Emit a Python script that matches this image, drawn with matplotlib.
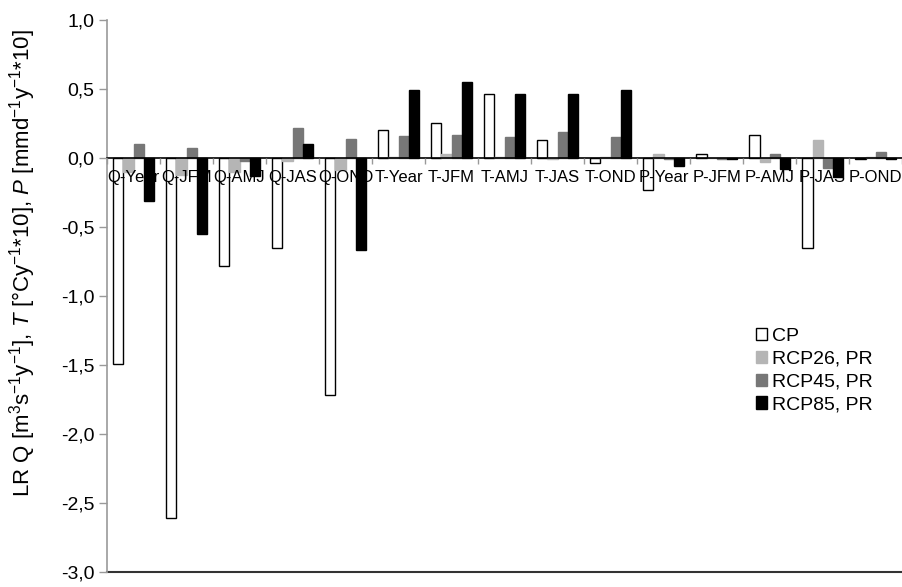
import matplotlib
matplotlib.use("Agg")
import matplotlib.pyplot as plt
import numpy as np
from matplotlib.ticker import FuncFormatter, FixedLocator

plt.rcParams["font.family"] = ["Liberation Sans", "DejaVu Sans"]
plt.rcParams["mathtext.fontset"] = "custom"
plt.rcParams["mathtext.rm"] = "Liberation Sans"
plt.rcParams["mathtext.it"] = "Liberation Sans:italic"

categories = ["Q-Year", "Q-JFM", "Q-AMJ", "Q-JAS", "Q-OND",
              "T-Year", "T-JFM", "T-AMJ", "T-JAS", "T-OND",
              "P-Year", "P-JFM", "P-AMJ", "P-JAS", "P-OND"]

cp = [-1.49, -2.61, -0.78, -0.65, -1.72,
      0.20, 0.25, 0.46, 0.13, -0.04,
      -0.23, 0.03, 0.17, -0.65, -0.01]
rcp26 = [-0.10, -0.12, -0.10, -0.02, -0.09,
         0.01, 0.03, 0.01, -0.01, 0.01,
         0.03, 0.00, -0.03, 0.13, 0.01]
rcp45 = [0.10, 0.07, -0.02, 0.22, 0.14,
         0.16, 0.17, 0.15, 0.19, 0.15,
         -0.01, -0.01, 0.03, -0.07, 0.04]
rcp85 = [-0.31, -0.55, -0.13, 0.10, -0.67,
         0.49, 0.55, 0.46, 0.46, 0.49,
         -0.06, -0.01, -0.08, -0.14, -0.01]

series = [
    ("CP", cp, "white", "black"),
    ("RCP26, PR", rcp26, "#b5b5b5", "#b5b5b5"),
    ("RCP45, PR", rcp45, "#777777", "#777777"),
    ("RCP85, PR", rcp85, "black", "black"),
]

fig = plt.figure(figsize=(9.03, 5.87), dpi=100)
ax = fig.add_axes([0.1185, 0.0256, 0.8805, 0.9404])
ax.set_axisbelow(False)

x = np.arange(len(categories))
w = 0.19
for k, (label, vals, fc, ec) in enumerate(series):
    ax.bar(x + (k - 1.5) * w, vals, width=w, color=fc, edgecolor=ec,
           linewidth=1.0, label=label, zorder=2)

ax.set_xlim(-0.5, len(categories) - 0.5)
ax.set_ylim(-3.0, 1.0)
ax.set_yticks(np.arange(-3.0, 1.01, 0.5))
ax.yaxis.set_major_formatter(FuncFormatter(lambda v, p: f"{v:.1f}".replace(".", ",")))
ax.tick_params(axis="y", labelsize=14, length=6, color="#999999", width=1, pad=3)

# horizontal axis crosses at zero, plot-area frame line at the bottom
ax.spines["bottom"].set_position(("data", 0))
ax.spines["bottom"].set_color("black")
ax.spines["bottom"].set_linewidth(1.2)
ax.spines["left"].set_color("#999999")
ax.spines["left"].set_linewidth(1.2)
ax.spines["top"].set_visible(False)
ax.spines["right"].set_visible(False)
ax.axhline(-3.0, color="#333333", linewidth=1.5, clip_on=False)

ax.set_xticks(x)
ax.set_xticklabels(categories)
ax.xaxis.set_minor_locator(FixedLocator(np.arange(-0.5, len(categories), 1.0)))
ax.tick_params(axis="x", which="major", length=0, labelsize=12, pad=9)
ax.tick_params(axis="x", which="minor", length=4, color="#999999", width=1)

ax.set_ylabel(r"LR Q [m$^{3}$s$^{-1}$y$^{-1}$], $T$ [°Cy$^{-1}$*10], $P$ [mmd$^{-1}$y$^{-1}$*10]",
              fontsize=16)
ax.yaxis.set_label_coords(-0.087, 0.559)

ax.legend(loc="upper left", bbox_to_anchor=(0.826, 0.458), bbox_transform=fig.transFigure,
          frameon=False, fontsize=14, handlelength=0.6, handleheight=0.6,
          handletextpad=0.25, labelspacing=0.3, borderpad=0)

fig.savefig("out.png", dpi=100)
